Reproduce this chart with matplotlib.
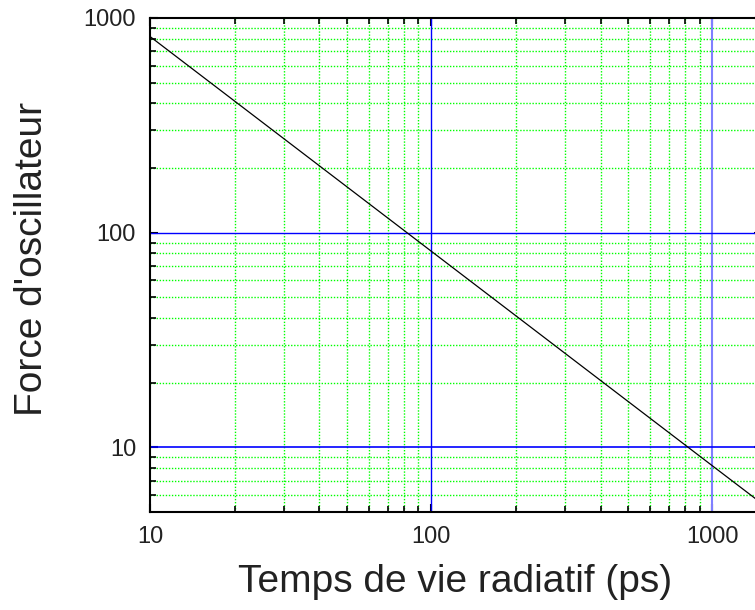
import numpy as np
import matplotlib
matplotlib.use('Agg')
import matplotlib.pyplot as plt
from matplotlib.ticker import FixedLocator, NullFormatter

plt.rcParams['font.family'] = ['Liberation Sans', 'DejaVu Sans']

# values (log-log, slope about -1)
tau_ps = [10, 100, 1000, 1500]
force = [820, 82, 8.2, 5.47]

x_major = [10, 100, 1000]
x_minor = [20, 30, 40, 50, 60, 70, 80, 90, 200, 300, 400, 500, 600, 700, 800, 900]
y_major = [10, 100, 1000]
y_minor = [6, 7, 8, 9, 20, 30, 40, 50, 60, 70, 80, 90, 200, 300, 400, 500, 600, 700, 800, 900]

fig = plt.figure(figsize=(7.55, 6.10), dpi=100)
ax = fig.add_axes([150 / 755, 98 / 610, 612 / 755, 494 / 610])
ax.set_xscale('log')
ax.set_yscale('log')
ax.set_xlim(10, 1500)
ax.set_ylim(5, 1000)

# green dotted minor grid
for x in x_minor:
    ax.axvline(x, color='#00ff00', ls=(0, (1, 1.2)), lw=1.0, zorder=1)
for y in y_minor:
    ax.axhline(y, color='#00ff00', ls=(0, (1, 1.2)), lw=1.0, zorder=1)

# blue major grid
ax.axvline(100, color='#0000ff', lw=1.0, zorder=2)
ax.axvline(1000, color='#7f7fff', lw=1.5, zorder=2)
ax.axhline(10, color='#0000ff', lw=1.2, zorder=2)
ax.axhline(100, color='#0000ff', lw=1.0, zorder=2)

ax.plot(tau_ps, force, color='black', lw=0.9, zorder=3)

ax.xaxis.set_major_locator(FixedLocator(x_major))
ax.xaxis.set_minor_locator(FixedLocator(x_minor))
ax.yaxis.set_major_locator(FixedLocator(y_major))
ax.yaxis.set_minor_locator(FixedLocator(y_minor))
ax.set_xticklabels([str(v) for v in x_major])
ax.set_yticklabels([str(v) for v in y_major])
ax.xaxis.set_minor_formatter(NullFormatter())
ax.yaxis.set_minor_formatter(NullFormatter())

ax.tick_params(which='both', direction='in', top=True, right=True, colors='black',
               labelcolor='#222222')
ax.tick_params(which='major', length=6, width=1.5, labelsize=17, pad=10)
ax.tick_params(which='minor', length=4, width=1.2)
for s in ax.spines.values():
    s.set_linewidth(1.5)

ax.set_xlabel('Temps de vie radiatif (ps)', fontsize=28, color='#222222')
ax.set_ylabel("Force d'oscillateur", fontsize=28, color='#222222')
ax.xaxis.set_label_coords(0.498, -0.105)
ax.yaxis.set_label_coords(-0.163, 0.512)

fig.savefig('out.png', dpi=100)
